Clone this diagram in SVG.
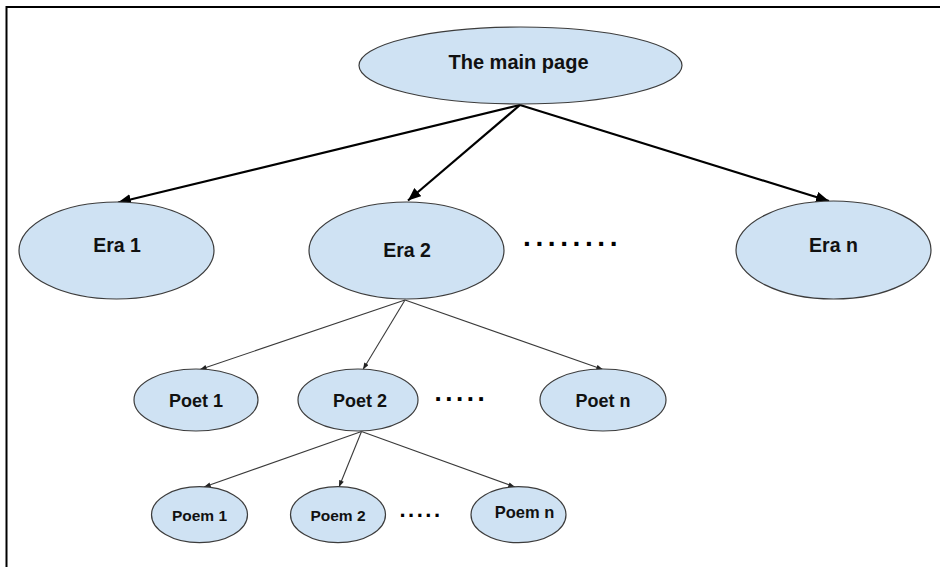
<svg xmlns="http://www.w3.org/2000/svg" width="940" height="567" viewBox="0 0 940 567">
<defs>
<style>
.node ellipse{fill:#cfe2f3;stroke:#3c3c3c;stroke-width:1.2}
.node text{font-family:"Liberation Sans",Arial,sans-serif;font-weight:bold;fill:#111;text-anchor:middle}
.thick{stroke:#000;stroke-width:2.2;fill:none}
.thin{stroke:#3a3a3a;stroke-width:1.1;fill:none}
.dots{font-family:"Liberation Sans",Arial,sans-serif;font-weight:bold;fill:#000}
</style>
<marker id="ah" viewBox="0 0 12 10" refX="12" refY="5" markerWidth="13" markerHeight="11" markerUnits="userSpaceOnUse" orient="auto">
<path d="M0,0 L12,5 L0,10 Z" fill="#000"/>
</marker>
<marker id="as" viewBox="0 0 8 6" refX="8" refY="3" markerWidth="7" markerHeight="5" markerUnits="userSpaceOnUse" orient="auto">
<path d="M0,0 L8,3 L0,6 Z" fill="#222"/>
</marker>
</defs>
<rect width="940" height="567" fill="#fff"/>
<path d="M6.5,567 V7 H940" fill="none" stroke="#000" stroke-width="2"/>
<g id="connectors">
<line class="thick" x1="520" y1="105" x2="118" y2="202.5" marker-end="url(#ah)"/>
<line class="thick" x1="520" y1="105" x2="408" y2="200.5" marker-end="url(#ah)"/>
<line class="thick" x1="520" y1="105" x2="829" y2="201" marker-end="url(#ah)"/>
<line class="thin" x1="405" y1="300" x2="200" y2="369.5" marker-end="url(#as)"/>
<line class="thin" x1="405" y1="300" x2="363" y2="369.5" marker-end="url(#as)"/>
<line class="thin" x1="405" y1="300" x2="603" y2="369.5" marker-end="url(#as)"/>
<line class="thin" x1="361.5" y1="431.5" x2="204" y2="487" marker-end="url(#as)"/>
<line class="thin" x1="361.5" y1="431.5" x2="339" y2="487" marker-end="url(#as)"/>
<line class="thin" x1="361.5" y1="431.5" x2="515" y2="487" marker-end="url(#as)"/>
</g>
<g id="main" class="node"><ellipse cx="520.5" cy="65.5" rx="161.5" ry="38.5"/><text x="518.5" y="69" font-size="20">The main page</text></g>
<g id="era1" class="node"><ellipse cx="116.5" cy="250.5" rx="97.5" ry="48.5"/><text x="117" y="251.5" font-size="19.5">Era 1</text></g>
<g id="era2" class="node"><ellipse cx="406.5" cy="250.5" rx="97.5" ry="48.5"/><text x="407" y="257" font-size="19.5">Era 2</text></g>
<g id="eran" class="node"><ellipse cx="833.5" cy="250" rx="97.5" ry="49"/><text x="833.5" y="252" font-size="19.5">Era n</text></g>
<g id="poet1" class="node"><ellipse cx="196" cy="400" rx="62" ry="31"/><text x="196" y="406.5" font-size="18">Poet 1</text></g>
<g id="poet2" class="node"><ellipse cx="358" cy="400" rx="60" ry="31"/><text x="360" y="406.5" font-size="18">Poet 2</text></g>
<g id="poetn" class="node"><ellipse cx="603" cy="400" rx="63" ry="31"/><text x="603" y="406.5" font-size="18">Poet n</text></g>
<g id="poem1" class="node"><ellipse cx="199.5" cy="514.7" rx="48" ry="28"/><text x="199.5" y="521" font-size="15.5">Poem 1</text></g>
<g id="poem2" class="node"><ellipse cx="338" cy="514.7" rx="47.5" ry="28"/><text x="338" y="521" font-size="15.5">Poem 2</text></g>
<g id="poemn" class="node"><ellipse cx="518.5" cy="514.7" rx="47.5" ry="28"/><text x="524.5" y="518" font-size="16.5">Poem n</text></g>
<text class="dots" x="523" y="246" font-size="28" letter-spacing="4.6">........</text>
<text class="dots" x="434.5" y="401" font-size="26" letter-spacing="3.5">.....</text>
<text class="dots" x="399.5" y="516.5" font-size="22" letter-spacing="2.5">.....</text>
</svg>
